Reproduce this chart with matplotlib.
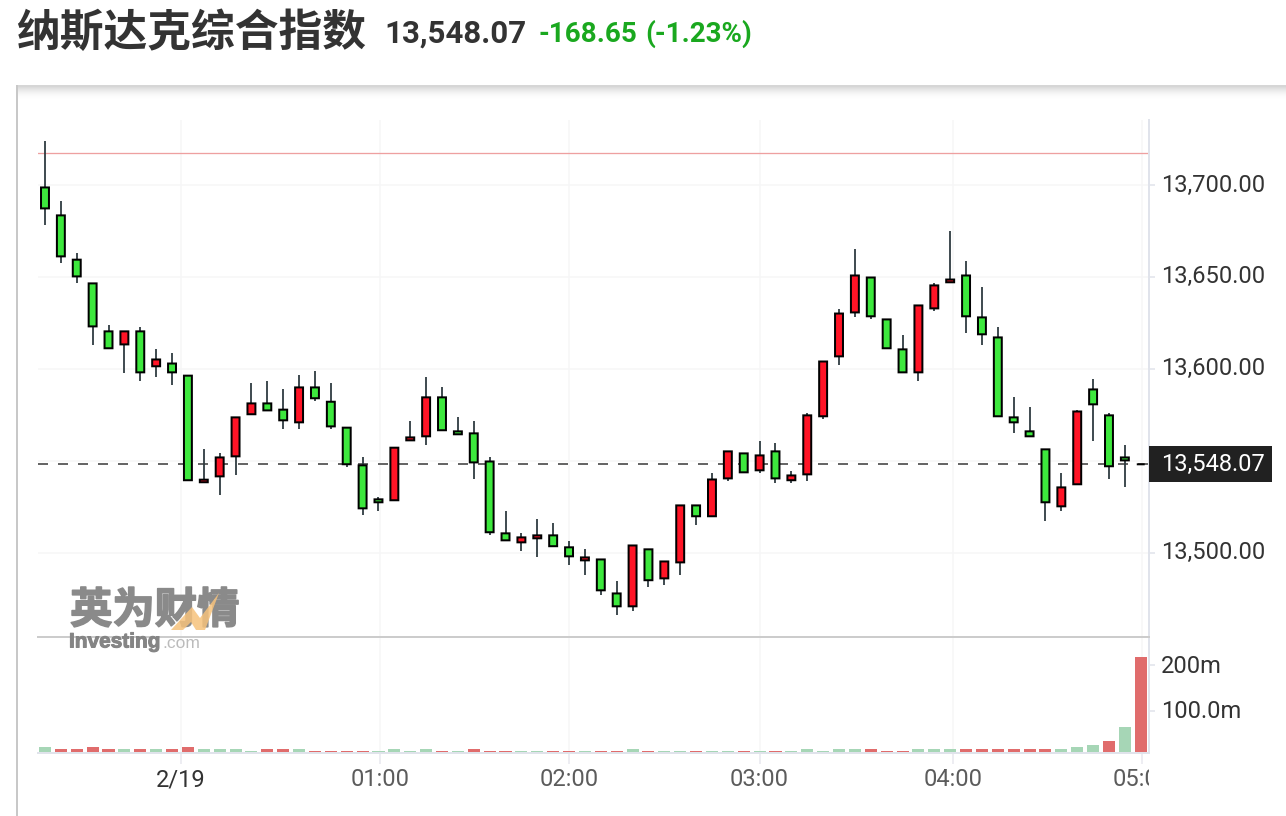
import matplotlib
matplotlib.use("Agg")
import matplotlib.pyplot as plt
import matplotlib.patheffects as pe
from matplotlib.patches import Rectangle, Polygon
from matplotlib.lines import Line2D
from matplotlib.transforms import Bbox, ScaledTranslation

plt.rcParams['font.family'] = ['Roboto', 'Noto Sans CJK SC', 'DejaVu Sans']

open_ = [13698.7, 13683.5, 13659.4, 13646.5, 13620.4, 13613.3, 13620.4, 13601.4, 13602.9, 13596.3,
         13538.3, 13541.5, 13552.4, 13575.3, 13581.2, 13577.8, 13570.9, 13589.9, 13582.1, 13568.0,
         13547.5, 13529.0, 13528.5, 13561.1, 13563.3, 13584.5, 13566.0, 13564.9, 13549.6, 13510.5,
         13505.6, 13507.8, 13509.4, 13502.9, 13495.8, 13496.3, 13477.8, 13470.8, 13501.8, 13486.0,
         13494.7, 13525.7, 13519.8, 13540.4, 13554.0, 13544.8, 13555.1, 13539.4, 13542.6, 13574.2,
         13606.8, 13630.7, 13649.7, 13626.9, 13610.6, 13598.1, 13632.9, 13647.1, 13650.8, 13628.0,
         13617.1, 13573.6, 13566.0, 13556.2, 13525.2, 13537.2, 13588.8, 13574.7, 13551.8, 13548.07]
high = [13723.9, 13691.3, 13663.0, 13646.5, 13623.8, 13620.4, 13622.8, 13610.8, 13608.6, 13596.3,
        13556.4, 13554.2, 13573.6, 13592.3, 13593.4, 13589.0, 13596.6, 13598.8, 13592.3, 13568.0,
        13552.0, 13530.3, 13557.1, 13571.6, 13595.4, 13590.0, 13573.6, 13571.5, 13551.9, 13522.5,
        13510.5, 13518.1, 13516.0, 13506.2, 13501.8, 13496.3, 13484.4, 13503.9, 13501.8, 13495.2,
        13525.7, 13525.7, 13543.2, 13555.1, 13554.0, 13560.6, 13559.5, 13544.3, 13576.1, 13604.0,
        13632.4, 13665.0, 13649.7, 13626.9, 13618.2, 13634.5, 13646.5, 13674.8, 13658.5, 13644.3,
        13622.6, 13584.5, 13579.1, 13556.2, 13543.2, 13577.6, 13594.3, 13575.8, 13558.4, 13548.07]
low = [13678.2, 13657.7, 13646.9, 13613.1, 13611.2, 13597.9, 13593.5, 13595.7, 13591.4, 13539.4,
       13538.3, 13531.5, 13542.4, 13575.3, 13577.4, 13567.4, 13567.4, 13582.7, 13567.4, 13546.8,
       13520.6, 13522.8, 13528.5, 13561.1, 13558.7, 13566.6, 13564.4, 13540.2, 13509.8, 13506.7,
       13501.1, 13497.8, 13503.5, 13493.4, 13488.0, 13477.1, 13466.2, 13468.4, 13481.5, 13482.6,
       13488.0, 13515.2, 13519.8, 13539.1, 13543.7, 13543.5, 13538.1, 13538.1, 13539.1, 13572.9,
       13602.2, 13628.4, 13627.3, 13611.2, 13598.1, 13593.5, 13631.6, 13647.1, 13619.7, 13613.1,
       13574.2, 13565.3, 13563.3, 13517.4, 13522.8, 13537.2, 13560.9, 13540.2, 13535.9, 13548.07]
close = [13687.3, 13661.2, 13650.3, 13623.1, 13611.2, 13620.4, 13598.1, 13605.1, 13598.1, 13539.4,
         13539.7, 13551.8, 13573.6, 13581.2, 13577.4, 13572.0, 13589.9, 13584.0, 13568.7, 13548.1,
         13524.1, 13527.4, 13557.1, 13562.7, 13584.5, 13566.6, 13564.4, 13549.1, 13511.1, 13506.7,
         13508.3, 13509.4, 13503.5, 13498.0, 13497.4, 13479.5, 13470.8, 13503.9, 13485.0, 13495.2,
         13525.7, 13519.8, 13539.8, 13555.1, 13543.7, 13552.9, 13540.4, 13542.0, 13574.7, 13604.0,
         13630.1, 13650.8, 13628.6, 13611.2, 13598.1, 13634.5, 13645.4, 13648.6, 13628.6, 13618.8,
         13574.2, 13570.9, 13563.3, 13527.4, 13535.5, 13576.8, 13580.7, 13547.0, 13550.2, 13548.07]

volume = [19.9, 15.5, 15.5, 19.9, 15.5, 15.5, 15.5, 15.5, 15.5, 19.9,
          15.5, 15.5, 15.5, 11.2, 15.5, 15.5, 15.5, 11.2, 11.2, 11.2,
          11.2, 11.2, 15.5, 11.2, 15.5, 11.2, 11.2, 15.5, 11.2, 11.2,
          11.2, 11.2, 11.2, 11.2, 11.2, 11.2, 11.2, 15.5, 11.2, 11.2,
          11.2, 11.2, 11.2, 11.2, 11.2, 11.2, 11.2, 11.2, 15.5, 11.2,
          15.5, 15.5, 15.5, 11.2, 11.2, 15.5, 15.5, 15.5, 15.5, 15.5,
          15.5, 15.5, 15.5, 15.5, 15.5, 20.6, 24.9, 33.7, 64.3, 216.8]
volume_up = [0, 1, 1, 1, 1, 0, 1, 0, 1, 1,
             0, 0, 0, 0, 1, 1, 0, 1, 1, 1,
             1, 0, 0, 0, 0, 1, 0, 1, 1, 1,
             0, 0, 1, 1, 0, 1, 1, 0, 1, 0,
             0, 1, 0, 0, 1, 0, 1, 0, 0, 0,
             0, 0, 1, 1, 1, 0, 0, 0, 1, 1,
             1, 1, 1, 1, 0, 0, 0, 1, 0, 1]

price_ticks = [13500, 13550, 13600, 13650, 13700]
price_labels = ['13,500.00', '', '13,600.00', '13,650.00', '13,700.00']
volume_ticks = [100, 200]
volume_labels = ['100.0m', '200m']
time_ticks = [8.56, 21.1, 33.0, 45.0, 57.2, 69.1]
time_labels = ['2/19', '01:00', '02:00', '03:00', '04:00', '05:00']
prev_close = 13717.5
last_price = 13548.07

W, H = 1286, 816


def fx(x):
    return x / W


def fy(y):
    return 1 - y / H


def px(n):
    # pixels to points at dpi 100
    return n * 0.72


GRID = '#f6f6f7'
AXIS = '#e0e3eb'
x_min, x_max = -0.44, 69.52

fig = plt.figure(figsize=(W / 100, H / 100), dpi=100, facecolor='white')

# card edge and its shadow
for k in range(14):
    fig.add_artist(Rectangle((fx(17), fy(87 + k)), fx(1286 - 17), 1 / H, transform=fig.transFigure,
                             facecolor='#000000', alpha=0.16 * (1 - k / 14) ** 2, edgecolor='none'))
fig.add_artist(Line2D([fx(17), fx(1286)], [fy(86), fy(86)], color='#d6d6d6', lw=px(2)))
fig.add_artist(Line2D([fx(17), fx(17)], [fy(86), 0], color='#c8c8c8', lw=px(2)))

ax = fig.add_axes([fx(38), fy(637), fx(1149 - 38), (637 - 120) / H])
ax_vol = fig.add_axes([fx(38), fy(752.5), fx(1149 - 38), (752.5 - 637) / H])
for a in (ax, ax_vol):
    a.patch.set_alpha(0)
    a.set_xlim(x_min, x_max)
    for s in a.spines.values():
        s.set_visible(False)
    a.spines['right'].set_visible(True)
    a.spines['right'].set_color(AXIS)
    a.spines['right'].set_linewidth(px(2))
    a.yaxis.tick_right()
    a.set_axisbelow(True)
    a.set_xticks(time_ticks)
    a.grid(True, axis='x', color=GRID, lw=px(1.5))

ax.set_ylim(13454.1, 13735.4)
ax.set_yticks(price_ticks)
ax.set_yticklabels(price_labels)
ax.grid(True, axis='y', color=GRID, lw=px(1.5))
ax.tick_params(axis='y', length=px(6), width=px(1.5), color=AXIS, labelsize=17, labelcolor='#333333', pad=px(6))
ax.tick_params(axis='x', length=0, labelbottom=False)

# watermark sits under the candles
thick = [pe.withStroke(linewidth=px(1.6), foreground='#8a8a8a')]
fig.text(fx(70), fy(611), '英为财情', fontsize=30.5, fontweight='bold', color='#8a8a8a', va='center', ha='left',
         family=['Noto Sans CJK SC', 'DejaVu Sans'], zorder=0.5, path_effects=thick)
fig.add_artist(Polygon([(fx(171), fy(630)), (fx(192), fy(607)), (fx(200), fy(618)), (fx(219), fy(593)),
                        (fx(205), fy(630)), (fx(196), fy(630)), (fx(191), fy(622)), (fx(183), fy(630))],
                       transform=fig.transFigure, facecolor='#f6c27c', edgecolor='none', alpha=0.85))
fig.text(fx(69), fy(642), 'Investing', fontsize=15, fontweight='bold', color='#858585', va='center', ha='left',
         family='Liberation Sans', path_effects=[pe.withStroke(linewidth=px(1), foreground='#858585')])
fig.text(fx(162), fy(643), '.com', fontsize=12.5, color='#bbbbbb', va='center', ha='left', family='Liberation Sans')

ax.axhline(prev_close, color='#eea0a0', lw=px(1.3), zorder=1.5)
ax.axhline(last_price, color='#666666', lw=px(2), linestyle=(0, (5, 5)), zorder=1.5)

idx = list(range(len(close)))
body_bottom = [min(o, c) for o, c in zip(open_, close)]
body_height = [abs(c - o) for o, c in zip(open_, close)]
body_color = ['#ff1426' if c > o else '#3de83d' for o, c in zip(open_, close)]
ax.vlines(idx, low, high, color='#2e3b40', lw=px(1.8), zorder=2)
ax.bar(idx, body_height, bottom=body_bottom, width=0.5, color=body_color, edgecolor='black',
       linewidth=px(2), zorder=3, snap=False)

# volume pane
ax_vol.set_ylim(8.5, 261.3)
ax_vol.bar(idx, [v - 8.5 for v in volume], bottom=8.5, width=0.76,
           color=['#e06c6c' if u else '#a6d6b6' for u in volume_up], zorder=2)
ax_vol.set_yticks(volume_ticks)
ax_vol.set_yticklabels(volume_labels)
ax_vol.tick_params(axis='y', length=px(6), width=px(1.5), color=AXIS, labelsize=17, labelcolor='#333333', pad=px(6))
ax_vol.set_xticklabels(time_labels)
ax_vol.tick_params(axis='x', length=px(11), width=px(1.5), color='#e8e8ee', labelsize=17, labelcolor='#5c5c5c', pad=px(5))
ax_vol.get_xticklabels()[0].set_color('#333333')
ax_vol.spines['bottom'].set_visible(True)
ax_vol.spines['bottom'].set_color(AXIS)
ax_vol.spines['bottom'].set_linewidth(px(2))
ax_vol.xaxis.get_ticklabels()[-1].set_clip_box(Bbox.from_extents(0, 0, 1149, H))
ax_vol.xaxis.get_ticklabels()[-1].set_clip_on(True)

# tick labels sit a little above their ticks in the reference
for lab in ax.get_yticklabels():
    lab.set_transform(lab.get_transform() + ScaledTranslation(0, 2.5 / 100, fig.dpi_scale_trans))
for lab in ax_vol.get_yticklabels():
    lab.set_transform(lab.get_transform() + ScaledTranslation(0, 1.5 / 100, fig.dpi_scale_trans))

# separator between the panes
fig.add_artist(Line2D([fx(38), fx(1149)], [fy(637), fy(637)], color='#cccccc', lw=px(2)))

# last price tag
fig.add_artist(Rectangle((fx(1149), fy(482)), fx(1272 - 1149), 36 / H, transform=fig.transFigure,
                         facecolor='#212121', edgecolor='none'))
fig.text(fx(1161), fy(464), '13,548.07', color='white', fontsize=17, va='center', ha='left')

# heading
fig.text(fx(16), fy(33), '纳斯达克综合指数', fontsize=31.5, fontweight='bold', color='#333333', va='center', ha='left',
         family=['Noto Sans CJK SC', 'DejaVu Sans'])
fig.text(fx(384), fy(34), '13,548.07', fontsize=22.5, fontweight='bold', color='#333333', va='center', ha='left')
fig.text(fx(538), fy(34), '-168.65', fontsize=20, fontweight='bold', color='#1aa81f', va='center', ha='left')
fig.text(fx(645), fy(34), '(-1.23%)', fontsize=20, fontweight='bold', color='#1aa81f', va='center', ha='left')

fig.savefig('out.png', dpi=100)
